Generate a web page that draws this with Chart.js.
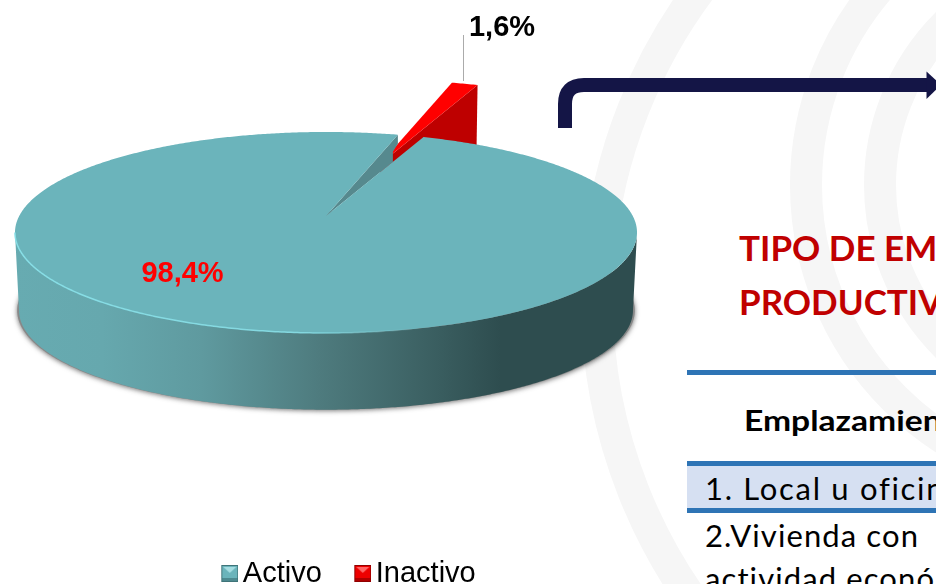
<!DOCTYPE html>
<html lang="es"><head><meta charset="utf-8">
<style>
html,body{margin:0;padding:0;background:#fff}
#page{position:relative;width:936px;height:584px;overflow:hidden;background:#fff}
#deco{position:absolute;left:0;top:0}
#wrap{position:absolute;left:0;top:0;width:703px;height:598px}
.t{position:absolute;white-space:nowrap;font-family:Lato,"Noto Sans",sans-serif;color:#000;line-height:1}
.rule{position:absolute;left:687px;width:249px;height:5px;background:#2E74B5}
</style></head><body>
<div id="page">
<svg id="deco" width="936" height="584" viewBox="0 0 936 584">
  <g fill="none" stroke="#F6F6F6" stroke-width="32">
    <circle cx="1116" cy="300" r="519"/>
    <circle cx="1108" cy="185" r="302"/>
    <circle cx="1108" cy="185" r="228"/>
  </g>
  <path d="M565 128V104Q565 85 584 85H928" fill="none" stroke="#141546" stroke-width="14"/>
  <path d="M926.5 71.5L941 85L926.5 99Z" fill="#141546"/>
</svg>
<div class="rule" style="top:370px"></div>
<div class="rule" style="top:461px"></div>
<div style="position:absolute;left:687px;top:466px;width:249px;height:42px;background:#D6E0F2"></div>
<div class="rule" style="top:508px"></div>
<div class="t" style="left:739px;top:230px;font-size:35px;font-weight:700;color:#C00000">TIPO DE EMPLAZAMIENTO</div>
<div class="t" style="left:739px;top:284px;font-size:35px;font-weight:700;color:#C00000">PRODUCTIVO</div>
<div class="t" style="left:744px;top:406px;font-size:28px;font-weight:700;transform:scaleX(1.2);transform-origin:left">Emplazamiento</div>
<div class="t" style="left:705px;top:473px;font-size:31px;letter-spacing:1.7px">1. Local u oficina</div>
<div class="t" style="left:705px;top:520px;font-size:31px;letter-spacing:1.1px">2.Vivienda con</div>
<div class="t" style="left:705px;top:563px;font-size:31px;letter-spacing:1.1px">actividad económica</div>
<div id="wrap"><canvas id="c"></canvas></div>
</div>
<script src="https://cdn.jsdelivr.net/npm/chart.js@4/dist/chart.umd.js"></script>
<script>
const categories = ['Activo', 'Inactivo'];
const shares = [98.4, 1.6];
const sliceColors = ['#6BB4BB', '#FF0000'];

function bevel(base, light, dark, darker) {
  const c = document.createElement('canvas'); c.width = 21; c.height = 17;
  const x = c.getContext('2d');
  x.translate(4, 0);
  x.fillStyle = darker; x.fillRect(0, 0, 17, 17);
  x.fillStyle = base; x.fillRect(1, 1, 15, 15);
  x.fillStyle = light; x.beginPath(); x.moveTo(2, 2); x.lineTo(15, 2); x.lineTo(8.5, 8); x.fill();
  x.fillStyle = dark; x.fillRect(1, 13, 15, 3);
  return c;
}
const swatches = [bevel('#6BB4BB', '#A5DDE2', '#4E8A90', '#3F7479'), bevel('#EE0000', '#FF6666', '#B00000', '#900000')];

// view of the disc: perspective tilt of a unit circle
const CX = 326, CY = 216, SX = 306.8, SY = 97.8, K = 0.164, DROP = 78, SHRINK = 0.987, MIDY = 232;
function proj(a, rr = 1) {
  const u = Math.cos(a) * rr, v = Math.sin(a) * rr, w = 1 - K * v;
  return { x: CX + SX * u / w, y: CY + SY * v / w };
}
function low(p) { return { x: CX + (p.x - CX) * SHRINK, y: MIDY + (p.y - MIDY) * SHRINK + DROP }; }

const pie3d = {
  id: 'pie3d',
  beforeDatasetDraw() { return false; },
  afterDatasetsDraw(chart) {
    const ctx = chart.ctx, arcs = chart.getDatasetMeta(0).data;
    const act = arcs[0], ina = arcs[1];
    const N = 720, rim = [];
    for (let i = 0; i < N; i++) rim.push(proj(i / N * Math.PI * 2));
    let iR = 0, iL = 0;
    rim.forEach((p, i) => { if (p.x > rim[iR].x) iR = i; if (p.x < rim[iL].x) iL = i; });
    const near = rim.slice(iR, iL + 1);

    // soft shadow under the disc
    ctx.save();
    ctx.shadowColor = 'rgba(70,70,70,.75)'; ctx.shadowBlur = 5; ctx.shadowOffsetY = 1;
    ctx.fillStyle = '#888';
    ctx.beginPath();
    rim.forEach((p, i) => { const q = low(p); const s = 1.006; const X = CX + (q.x - CX) * s, Y = q.y;
      i ? ctx.lineTo(X, Y) : ctx.moveTo(X, Y); });
    ctx.closePath(); ctx.fill();
    ctx.restore();

    // outer wall
    const g = ctx.createLinearGradient(15, 0, 637, 0);
    [[0, '#67ABB1'], [.14, '#66A8AE'], [.3, '#5F9A9F'], [.49, '#4E7B7E'], [.66, '#3C6163'], [.78, '#2E4D4F'], [1, '#2E4D4F']]
      .forEach(s => g.addColorStop(s[0], s[1]));
    ctx.fillStyle = g;
    ctx.beginPath();
    near.forEach((p, i) => i ? ctx.lineTo(p.x, p.y) : ctx.moveTo(p.x, p.y));
    for (let i = near.length - 1; i >= 0; i--) { const q = low(near[i]); ctx.lineTo(q.x, q.y); }
    ctx.closePath(); ctx.fill();

    // exploded slice
    const OX = 54, OY = -52, WALL = 62;
    const a0 = ina.startAngle, a1 = ina.endAngle;
    const A = { x: CX + OX, y: CY + OY };
    const R0 = proj(a0), R1 = proj(a1);
    ctx.fillStyle = '#BE0000';
    ctx.beginPath();
    ctx.moveTo(A.x, A.y); ctx.lineTo(R1.x + OX, R1.y + OY);
    ctx.lineTo(R1.x + OX - 1, R1.y + OY + WALL); ctx.lineTo(A.x, A.y + WALL);
    ctx.closePath(); ctx.fill();
    ctx.fillStyle = sliceColors[1];
    ctx.beginPath();
    ctx.moveTo(A.x, A.y);
    for (let i = 0; i <= 12; i++) { const p = proj(a0 + (a1 - a0) * i / 12); ctx.lineTo(p.x + OX, p.y + OY); }
    ctx.closePath(); ctx.fill();

    // leader line
    ctx.strokeStyle = '#ABABAB'; ctx.lineWidth = 1;
    ctx.beginPath(); ctx.moveTo(463.5, 35); ctx.lineTo(463.5, 81); ctx.stroke();

    // top face of the large slice with its cut face
    const E0 = proj(act.endAngle), E1 = proj(act.startAngle);
    const t = (E0.x - 5 - CX) / (E1.x - CX);
    ctx.fillStyle = '#56898E';
    ctx.beginPath();
    ctx.moveTo(CX, CY); ctx.lineTo(E0.x, E0.y); ctx.lineTo(E0.x, E0.y + 9); ctx.lineTo(E0.x - 5, E0.y + 17);
    ctx.lineTo(CX + (E1.x - CX) * t, CY + (E1.y - CY) * t);
    ctx.closePath(); ctx.fill();

    ctx.fillStyle = sliceColors[0];
    ctx.beginPath();
    ctx.moveTo(CX, CY);
    const M = 720;
    for (let i = 0; i <= M; i++) { const p = proj(act.startAngle + (act.endAngle - act.startAngle) * i / M); ctx.lineTo(p.x, p.y); }
    ctx.closePath(); ctx.fill();

    // lit edge
    const h = ctx.createLinearGradient(15, 0, 420, 0);
    h.addColorStop(0, 'rgba(135,222,230,1)'); h.addColorStop(.7, 'rgba(135,222,230,.9)'); h.addColorStop(1, 'rgba(135,222,230,0)');
    ctx.strokeStyle = h; ctx.lineWidth = 1.5;
    ctx.beginPath();
    near.forEach((p, i) => i ? ctx.lineTo(p.x, p.y) : ctx.moveTo(p.x, p.y));
    ctx.stroke();

    // value labels
    const fmt = v => String(v).replace('.', ',') + '%';
    ctx.font = 'bold 29px "Liberation Sans", Arial, sans-serif';
    ctx.textAlign = 'center'; ctx.textBaseline = 'alphabetic';
    ctx.fillStyle = '#FF0000'; ctx.fillText(fmt(shares[0]), 182.5, 282);
    ctx.fillStyle = '#000'; ctx.fillText(fmt(shares[1]), 502, 36);
  }
};

new Chart(document.getElementById('c'), {
  type: 'pie',
  data: { labels: categories, datasets: [{ data: shares, backgroundColor: sliceColors, borderWidth: 0 }] },
  plugins: [pie3d],
  options: {
    responsive: true, maintainAspectRatio: false, animation: false, rotation: 21.5,
    plugins: {
      tooltip: { enabled: false },
      legend: {
        position: 'bottom',
        labels: {
          usePointStyle: true, pointStyleWidth: 1, padding: 38.5, color: '#000',
          font: { family: '"Liberation Sans", Arial, sans-serif', size: 29 },
          generateLabels: c => categories.map((n, i) => ({
            text: n, pointStyle: swatches[i], fillStyle: sliceColors[i], strokeStyle: sliceColors[i],
            lineWidth: 0, hidden: false, index: i, datasetIndex: 0, fontColor: '#000'
          }))
        }
      }
    }
  }
});
</script>
</body></html>
